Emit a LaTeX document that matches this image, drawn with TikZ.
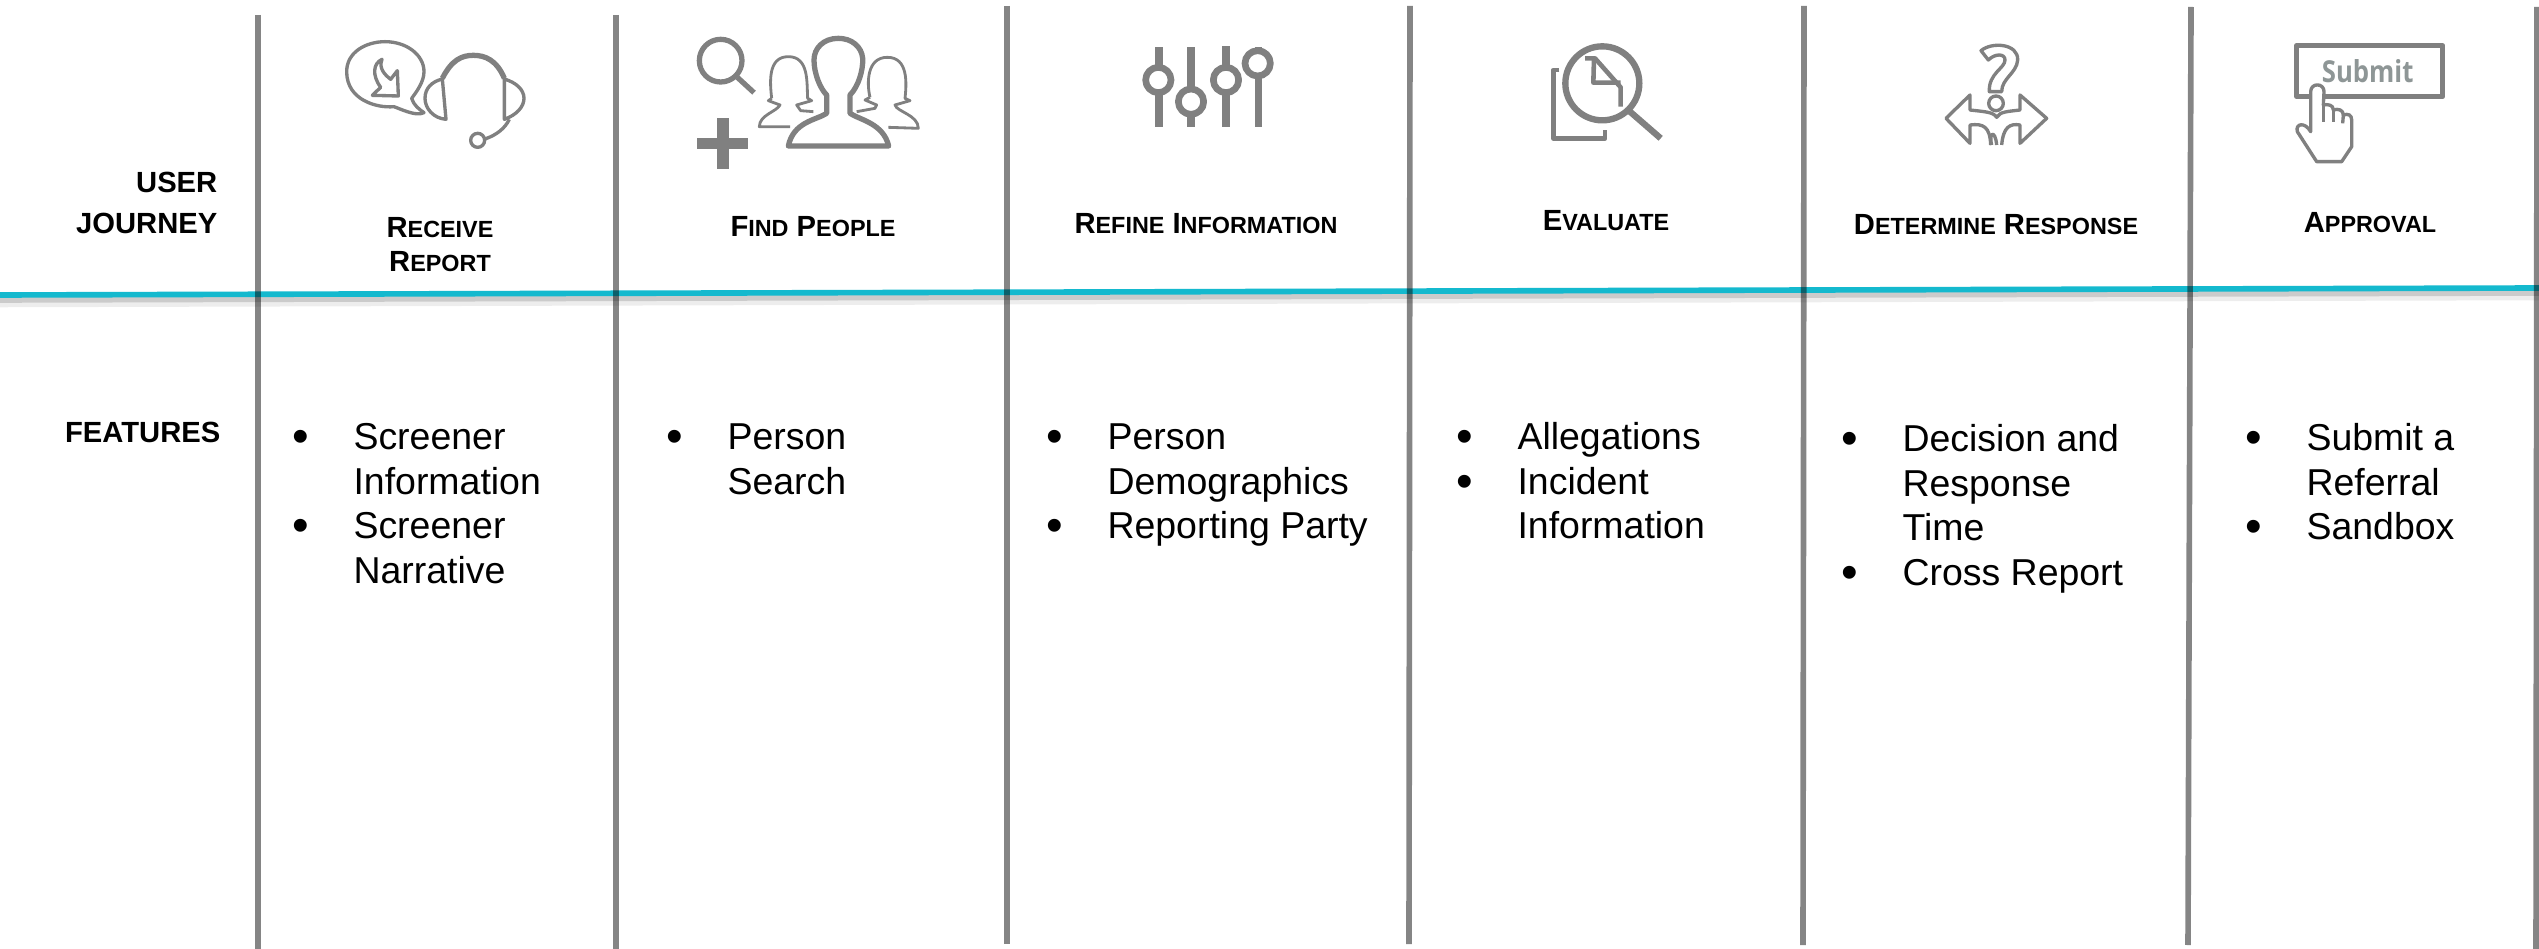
\documentclass[tikz,border=0pt]{standalone}
\usepackage{fontspec}
\setmainfont{Liberation Sans}
\newfontfamily\btnfont{Open Sans}
\usepackage{tikz}
\definecolor{iconGray}{HTML}{808080}
\definecolor{ruleTeal}{HTML}{14B9CE}
\definecolor{btnGray}{HTML}{8E9696}
\newcommand{\lowcaps}[1]{{\fontsize{6.65}{8}\selectfont #1}}
\newcommand{\featlist}[1]{\begin{tabular}[t]{@{}p{17.3pt}@{}l@{}}#1\end{tabular}}
\newcommand{\bigdot}{\raisebox{-0.8pt}{\fontsize{13.5}{12.65}\selectfont\textbullet}}

\begin{document}
\begin{tikzpicture}[line cap=butt,line join=round,x=0.01cm,y=-0.01cm,
  colrule/.style={black,opacity=0.48,line width=1.6pt},
  sidelabel/.style={anchor=east,inner sep=0pt,align=right,font=\fontsize{8.3}{11.7}\selectfont\bfseries},
  headlabel/.style={inner sep=0pt,align=center,font=\fontsize{8.3}{9.7}\selectfont\bfseries},
  featlabel/.style={anchor=base west,inner sep=0pt,font=\fontsize{10.65}{12.65}\selectfont},
  iconline/.style={draw=iconGray,line width=0.95pt},
  iconthin/.style={draw=iconGray,line width=0.8pt},
  iconbold/.style={draw=iconGray,line width=1.5pt}]
\useasboundingbox (0,0) rectangle (2539,949);
\fill[white] (0,0) rectangle (2539,949);
\draw[black,opacity=0.07,line width=3pt] (0,302)--(2539,295);
\draw[black,opacity=0.14,line width=1.6pt] (0,300)--(2539,293);
\draw[ruleTeal,line width=1.6pt] (0,295)--(2539,288);
\draw[colrule] (258,15)--(258,949);
\draw[colrule] (616,15)--(616,949);
\draw[colrule] (1007,6)--(1007,944);
\draw[colrule] (1410,6)--(1409,944);
\draw[colrule] (1804,6)--(1803,945);
\draw[colrule] (2191,7)--(2188,945);
\draw[colrule] (2537,7)--(2536,949);

\node (userJourney) [sidelabel] at (218,203) {USER\\JOURNEY};
\node (features) [sidelabel] at (221,432) {FEATURES};
\node (receive) [headlabel] at (440,245) {R\lowcaps{ECEIVE}\\R\lowcaps{EPORT}};
\node (findPeople) [headlabel] at (813,227) {F\lowcaps{IND} P\lowcaps{EOPLE}};
\node (refine) [headlabel] at (1206,224) {R\lowcaps{EFINE} I\lowcaps{NFORMATION}};
\node (evaluate) [headlabel] at (1606,221) {E\lowcaps{VALUATE}};
\node (determine) [headlabel] at (1996,225) {D\lowcaps{ETERMINE} R\lowcaps{ESPONSE}};
\node (approval) [headlabel] at (2370,223) {A\lowcaps{PPROVAL}};

\node (listReceive) [featlabel] at (292,450) {\featlist{\bigdot & Screener\\ & Information\\ \bigdot & Screener\\ & Narrative}};
\node (listFind) [featlabel] at (666,450) {\featlist{\bigdot & Person\\ & Search}};
\node (listRefine) [featlabel] at (1046,450) {\featlist{\bigdot & Person\\ & Demographics\\ \bigdot & Reporting Party}};
\node (listEvaluate) [featlabel] at (1456,450) {\featlist{\bigdot & Allegations\\ \bigdot & Incident\\ & Information}};
\node (listDetermine) [featlabel] at (1841,452) {\featlist{\bigdot & Decision and\\ & Response\\ & Time\\ \bigdot & Cross Report}};
\node (listApproval) [featlabel] at (2245,451) {\featlist{\bigdot & Submit a\\ & Referral\\ \bigdot & Sandbox}};

\begin{scope}[shift={(320,10)},scale=1/3]
\draw[iconline] (222,290) .. controls (170,295) and (80,270) .. (80,185) .. controls (80,125) and (140,95) .. (195,95) .. controls (260,95) and (312,135) .. (312,185) .. controls (312,215) and (290,245) .. (275,265) .. controls (280,285) and (300,300) .. (312,308) .. controls (290,318) and (260,305) .. (222,290) -- cycle;
\draw[iconline] (186,148) .. controls (160,160) and (155,195) .. (182,232) -- (157,256) -- (235,258) -- (232,182) -- (212,208) .. controls (195,195) and (175,175) .. (186,148) -- cycle;
\draw[iconbold] (367,205) .. controls (395,150) and (425,136) .. (460,136) .. controls (495,136) and (530,150) .. (553,205);
\draw[iconline] (367,207) -- (378,328) .. controls (340,325) and (315,295) .. (315,265) .. controls (315,235) and (335,215) .. (367,207) -- cycle;
\draw[iconline] (553,207) -- (553,328) .. controls (590,315) and (612,290) .. (612,265) .. controls (612,240) and (590,218) .. (553,207) -- cycle;
\draw[iconline] (568,328) .. controls (555,355) and (530,375) .. (495,387);
\draw[iconline] (473,391) circle (21);
\end{scope}

\begin{scope}[shift={(680,20)},scale=1/3]
\draw[iconbold] (122,122) circle (64);
\draw[iconline,line width=1.5pt] (172,172) -- (222,218);
\fill[iconGray] (110,295) rectangle (146,447);
\fill[iconGray] (52,353) rectangle (203,387);
\draw[iconthin] (275,235) .. controls (270,190) and (262,110) .. (325,110) .. controls (388,110) and (380,190) .. (383,235) -- (395,242) -- (350,255) -- (362,272) -- (400,275);
\draw[iconthin] (275,235) -- (265,242) -- (300,255) .. controls (290,275) and (238,285) .. (238,320) -- (330,320);
\draw[iconthin] (570,232) .. controls (560,190) and (560,112) .. (622,112) .. controls (685,112) and (680,190) .. (675,235) -- (690,242) -- (645,255) .. controls (650,275) and (715,285) .. (715,325) -- (625,322);
\draw[iconthin] (570,232) -- (555,240) -- (590,255) -- (585,265) -- (530,275);
\draw[iconbold,fill=white] (325,378) -- (626,378) .. controls (610,310) and (540,300) .. (510,280) -- (510,225) .. controls (535,200) and (550,150) .. (548,115) .. controls (545,80) and (515,55) .. (475,55) .. controls (430,55) and (402,85) .. (402,120) .. controls (402,160) and (420,205) .. (440,225) -- (440,280) .. controls (410,300) and (340,305) .. (325,378) -- cycle;
\end{scope}

\begin{scope}[shift={(1120,30)},scale=1/3]
\fill[iconGray] (106,50) rectangle (128,290);
\fill[iconGray] (202,50) rectangle (224,290);
\fill[iconGray] (307,48) rectangle (329,290);
\fill[iconGray] (405,50) rectangle (427,290);
\draw[iconGray,line width=1.9pt,fill=white] (115,150) circle (38);
\draw[iconGray,line width=1.9pt,fill=white] (213,215) circle (38);
\draw[iconGray,line width=1.9pt,fill=white] (318,150) circle (38);
\draw[iconGray,line width=1.9pt,fill=white] (413,100) circle (38);
\end{scope}

\begin{scope}[shift={(1530,30)},scale=1/3]
\draw[iconGray,line width=1.8pt] (217,160) circle (111);
\draw[iconbold,line width=1.8pt] (300,245) -- (392,325);
\draw[iconline,line width=1.3pt] (165,85) -- (195,85) -- (272,172) -- (272,230);
\draw[iconline,line width=1.3pt] (192,85) -- (190,158) -- (272,158);
\draw[iconline,line width=1.3pt] (88,120) -- (70,120) -- (70,325) -- (225,325) -- (225,300);
\end{scope}

\begin{scope}[shift={(1920,30)},scale=1/3]
\draw[iconline] (183,62) .. controls (215,35) and (295,40) .. (293,90) .. controls (290,130) and (245,145) .. (245,185) -- (208,185) .. controls (205,130) and (255,115) .. (255,90) .. controls (255,70) and (225,70) .. (205,90) -- cycle;
\draw[iconline] (228,220) circle (22);
\draw[iconline] (212,345) .. controls (210,290) and (190,280) .. (150,285) -- (150,340) -- (78,265) -- (150,195) -- (150,240) .. controls (190,245) and (220,245) .. (230,262) .. controls (240,245) and (260,245) .. (300,240) -- (300,195) -- (380,265) -- (300,340) -- (300,285) .. controls (270,280) and (250,290) .. (245,345);
\draw[iconline] (215,345) .. controls (205,310) and (225,295) .. (230,345);
\end{scope}

\begin{scope}[shift={(2270,30)},scale=1/3]
\draw[iconGray,line width=1.4pt] (80,47) rectangle (518,200);
\node (submit) [inner sep=0pt,text=btnGray,font=\btnfont\bfseries\fontsize{8.6}{10}\selectfont] at (293,122) {\scalebox{0.85}[1]{Submit}};
\draw[iconline,fill=white] (122,305) -- (122,185) .. controls (122,158) and (162,158) .. (162,185) -- (160,225) .. controls (175,222) and (190,225) .. (190,240) .. controls (205,235) and (220,240) .. (220,255) .. controls (235,250) and (245,255) .. (245,270) -- (245,350) -- (215,395) -- (140,395) -- (82,305) .. controls (75,280) and (105,275) .. (122,305) -- cycle;
\draw[iconline] (160,225) -- (160,275);
\draw[iconline] (190,240) -- (190,275);
\draw[iconline] (220,255) -- (218,280);
\end{scope}
\end{tikzpicture}
\end{document}
